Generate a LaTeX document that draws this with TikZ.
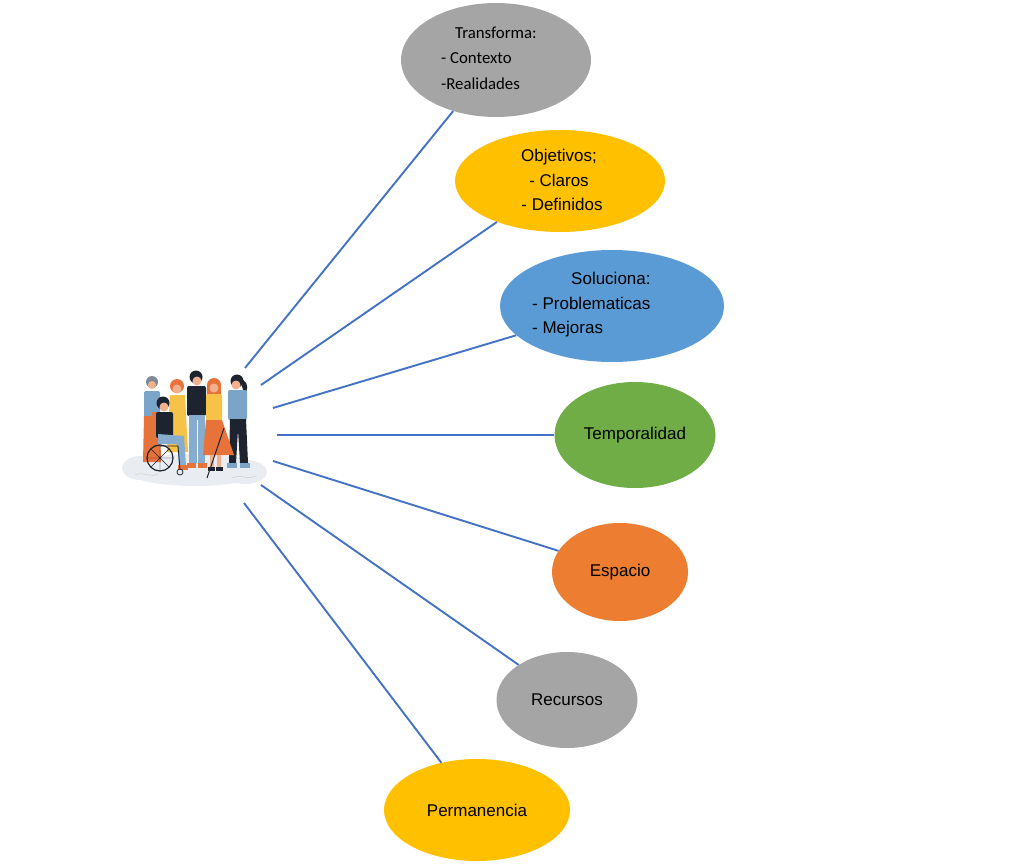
\documentclass[tikz,border=0pt]{standalone}
\usepackage{fontspec}
\setmainfont{Liberation Sans}
\newfontfamily\calibfont{Carlito}
\usetikzlibrary{shapes.geometric}
\definecolor{cgray}{HTML}{A5A5A5}
\definecolor{cyellow}{HTML}{FFC000}
\definecolor{cblue}{HTML}{5B9BD5}
\definecolor{cgreen}{HTML}{70AD47}
\definecolor{corange}{HTML}{ED7D31}
\definecolor{cline}{HTML}{4472C4}
\definecolor{pblue}{HTML}{7AA5C8}
\definecolor{pjeans}{HTML}{86ADCF}
\definecolor{porange}{HTML}{E8733A}
\definecolor{pyellow}{HTML}{F6C247}
\definecolor{pdark}{HTML}{1E2330}
\definecolor{pskin}{HTML}{F2B08C}
\definecolor{pground}{HTML}{E9EDF2}
\begin{document}
\begin{tikzpicture}[x=1pt,y=-1pt,
  oval/.style={ellipse,inner sep=0pt,draw=none,font=\fontsize{17}{24.5}\selectfont},
  txt/.style={inner sep=0pt,font=\fontsize{17}{24.5}\selectfont},
  link/.style={draw=cline,line width=1.9pt}]
\useasboundingbox (0,0) rectangle (1024,866);
\fill[white] (0,0) rectangle (1024,866);

% ellipses
\node[oval,fill=cgray,minimum width=190pt,minimum height=114pt] (e1) at (496,60) {};
\node[txt,align=left,anchor=west,font=\calibfont\fontsize{16.8}{25.5}\selectfont] (t1) at (441,58) {\hspace*{14pt}Transforma:\\- Contexto\\-Realidades};
\node[oval,fill=cyellow,minimum width=210pt,minimum height=102pt] (e2) at (560,181) {};
\node[txt,align=center] (t2) at (559,180) {Objetivos;\\- Claros\\\hspace*{6pt}- Definidos};
\node[oval,fill=cblue,minimum width=224pt,minimum height=112pt] (e3) at (612,306) {};
\node[txt,align=left,anchor=west] (t3) at (532,305) {\hspace*{39pt}Soluciona:\\- Problematicas\\- Mejoras};
\node[oval,fill=cgreen,minimum width=161pt,minimum height=106pt] (e4) at (635,435) {Temporalidad};
\node[oval,fill=corange,minimum width=136pt,minimum height=98pt] (e5) at (620,572) {Espacio};
\node[oval,fill=cgray,minimum width=141pt,minimum height=96pt] (e6) at (567,700) {Recursos};
\node[oval,fill=cyellow,minimum width=186pt,minimum height=102pt] (e7) at (477,810) {Permanencia};

% start points near the illustration
\coordinate (s1) at (245,368);
\coordinate (s2) at (261,385);
\coordinate (s3) at (273,408);
\coordinate (s4) at (277,435);
\coordinate (s5) at (273,461);
\coordinate (s6) at (261,485);
\coordinate (s7) at (244,503);

\draw[link] (s1) -- (e1.230.3);
\draw[link] (s2) -- (e2.213.9);
\draw[link] (s3) -- (e3.197.2);
\draw[link] (s4) -- (e4.west);
\draw[link] (s5) -- (e5.161);
\draw[link] (s6) -- (e6.144.2);
\draw[link] (s7) -- (e7.127.6);

% illustration: group of people
\fill[pground] (195,470) ellipse [x radius=70pt,y radius=16pt];
\fill[pground] (140,468) ellipse [x radius=18pt,y radius=12pt];
\fill[pground] (245,472) ellipse [x radius=22pt,y radius=12pt];
\draw[gray!40,line width=0.5pt] (135,475) .. controls (142,471) and (150,478) .. (158,474);
\draw[gray!40,line width=0.5pt] (232,478) .. controls (240,474) and (248,480) .. (256,476);

% person B (yellow dress, behind)
\fill[porange] (177,386) circle (7pt);
\fill[pskin] (177,389) circle (4.5pt);
\fill[pyellow] (170,395) -- (185,395) -- (188,452) -- (167,452) -- cycle;

% person A (left)
\fill[gray!70!pblue] (152,382) circle (6pt);
\fill[pskin] (152,385) circle (4pt);
\fill[pblue,rounded corners=2pt] (144,391) rectangle (160,418);
\fill[porange] (144,416) -- (160,416) -- (161,462) -- (143,462) -- cycle;

% person C (black shirt)
\fill[pdark] (196,377) circle (6.5pt);
\fill[pskin] (197,381) circle (4.5pt);
\fill[pdark,rounded corners=2pt] (187,386) rectangle (206,416);
\fill[pjeans] (189,415) rectangle (205,463);
\draw[white,line width=0.6pt] (197,420) -- (197,463);
\fill[porange] (187,463) rectangle (196,468);
\fill[porange] (198,463) rectangle (207,468);

% person E (right)
\fill[pdark] (237,381) circle (6.5pt);
\fill[pdark] (243,380) .. controls (249,383) and (248,392) .. (244,394) -- (242,386) -- cycle;
\fill[pskin] (236,385) circle (4.5pt);
\fill[pblue,rounded corners=2pt] (228,390) rectangle (247,420);
\fill[pdark] (230,419) -- (246,419) -- (248,463) -- (240,463) -- (238,430) -- (236,463) -- (229,463) -- cycle;
\fill[pblue] (227,463) rectangle (237,468);
\fill[pblue] (240,463) rectangle (250,468);

% person D (orange skirt, cane)
\fill[porange] (214,385) circle (7pt);
\fill[porange] (207,386) rectangle (221,402);
\fill[pskin] (214,388) circle (4.5pt);
\fill[pyellow,rounded corners=2pt] (206,394) rectangle (222,422);
\fill[porange] (206,420) -- (222,420) -- (234,455) -- (203,455) -- cycle;
\fill[pskin] (210,455) rectangle (214,468);
\fill[pskin] (217,455) rectangle (221,468);
\fill[pdark] (208,467) rectangle (215,471);
\fill[pdark] (216,467) rectangle (223,471);
\draw[pdark,line width=1pt] (224,428) -- (207,478);

% person in wheelchair (front)
\fill[porange!80!brown] (152,412) rectangle (158,448);
\fill[pdark] (163,403) circle (6.5pt);
\fill[pskin] (164,407) circle (4.5pt);
\fill[pdark,rounded corners=2pt] (156,412) rectangle (173,438);
\fill[pjeans] (158,434) -- (184,436) -- (186,466) -- (179,466) -- (177,444) -- (158,444) -- cycle;
\fill[porange] (178,465) rectangle (188,470);
\draw[pdark,line width=1.2pt] (160,458) circle (13pt);
\draw[pdark,line width=0.4pt] (147,458) -- (173,458) (160,445) -- (160,471) (151,449) -- (169,467) (151,467) -- (169,449);
\draw[pdark,line width=0.8pt] (180,472) circle (3pt);
\draw[pdark,line width=0.8pt] (160,446) -- (178,446) -- (180,469);
\end{tikzpicture}
\end{document}
